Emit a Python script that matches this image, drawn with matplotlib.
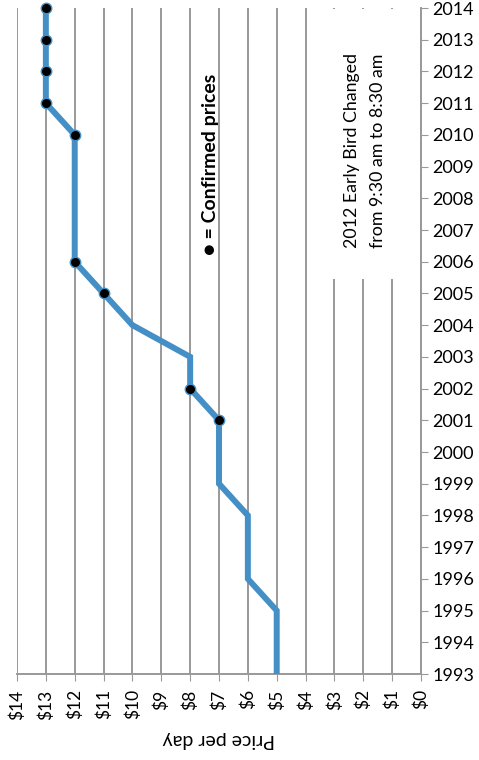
import matplotlib
matplotlib.use("Agg")
import matplotlib.pyplot as plt
from matplotlib.patches import Rectangle

plt.rcParams['font.family'] = ['Lato', 'DejaVu Sans']

years = list(range(1993, 2015))
prices = [5, 5, 5, 6, 6, 6, 7, 7, 7, 8, 8, 10, 11, 12, 12, 12, 12, 12, 13, 13, 13, 13]
confirmed_years = [2001, 2002, 2005, 2006, 2010, 2011, 2012, 2013, 2014]
price_ticks = list(range(14, -1, -1))
price_labels = [f"${p}" for p in price_ticks]

LINE_BLUE = "#4490c6"
GRID = "#999999"

fig = plt.figure(figsize=(4.79, 7.6), dpi=100)
ax = fig.add_axes([17 / 479, 86 / 760, 404 / 479, 666 / 760])

ax.plot(prices, years, color=LINE_BLUE, lw=4.3, solid_joinstyle='miter', zorder=3)
conf_prices = [prices[years.index(y)] for y in confirmed_years]
ax.plot(conf_prices, confirmed_years, ls='none', marker='o', ms=7.5,
        mfc='black', mec=LINE_BLUE, mew=1.0, zorder=4, clip_on=False)

ax.set_xlim(14, 0)
ax.set_ylim(1993, 2014)

ax.set_xticks(price_ticks)
ax.set_xticklabels(price_labels, rotation=90, fontsize=12.5)
ax.set_yticks(years)
ax.yaxis.tick_right()
ax.tick_params(axis='y', labelsize=13, length=5, color=GRID, direction='out', pad=3)
ax.tick_params(axis='x', length=5, color=GRID, direction='out', pad=6)
ax.grid(axis='x', color=GRID, lw=1.4)
ax.set_axisbelow(True)

for s in ['left', 'top']:
    ax.spines[s].set_visible(False)
for s in ['bottom', 'right']:
    ax.spines[s].set_color(GRID)
    ax.spines[s].set_linewidth(1.4)

ax.set_xlabel("Price per day", rotation=180, fontsize=14, labelpad=8)

# white note box hiding gridlines
ax.add_patch(Rectangle((0.738, 0.593), 0.247, 0.405, transform=ax.transAxes,
                       facecolor='white', edgecolor='none', zorder=2))
ax.text(1.95, 2009.5, "2012 Early Bird Changed\nfrom 9:30 am to 8:30 am",
        rotation=90, ha='center', va='center', fontsize=12.8, zorder=5,
        linespacing=1.8)

ax.text(7.31, 2006.2, "\u25CF = Confirmed prices", rotation=90, ha='center', va='bottom',
        fontsize=14, fontweight='bold', zorder=5)

fig.savefig("out.png", dpi=100)
